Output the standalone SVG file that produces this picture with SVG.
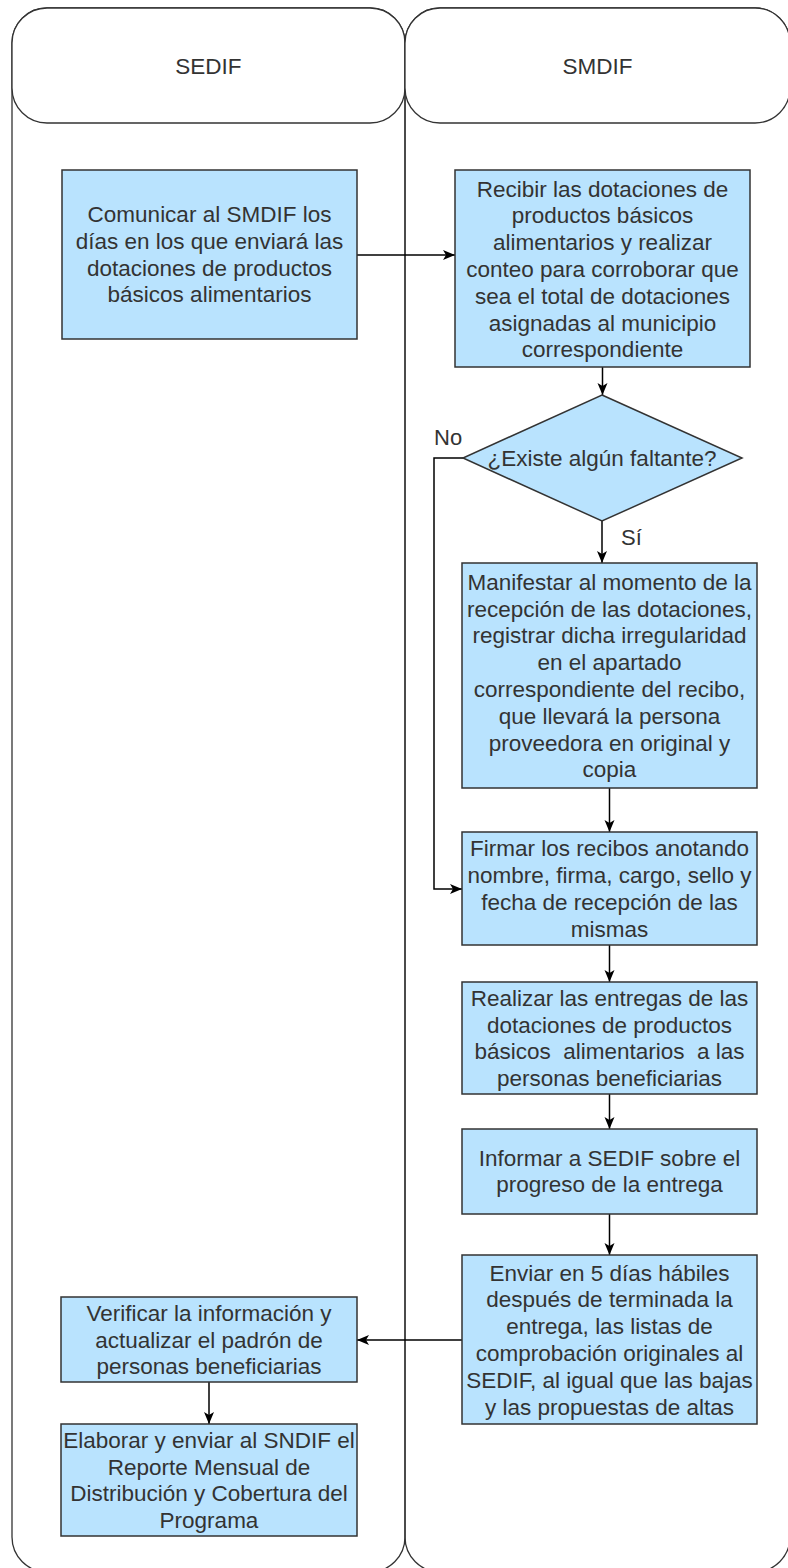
<svg xmlns="http://www.w3.org/2000/svg" width="788" height="1568" viewBox="0 0 788 1568">
<style>
.lane{fill:none;stroke:#333;stroke-width:1.3}
.hdr{fill:#fff;stroke:#333;stroke-width:1.3}
.box{fill:#b9e3fe;stroke:#333;stroke-width:1.5}
.t{font-family:"Liberation Sans",Arial,sans-serif;font-size:22.5px;fill:#333;text-anchor:middle}
.lbl{font-family:"Liberation Sans",Arial,sans-serif;font-size:22px;fill:#333}
.c{fill:none;stroke:#000;stroke-width:1.5}
</style>
<defs>
<marker id="arr" markerUnits="userSpaceOnUse" markerWidth="14" markerHeight="14" viewBox="0 0 14 14" refX="13" refY="7" orient="auto">
<path d="M1,2 L13,7 L1,12 L4,7 z" fill="#000"/>
</marker>
</defs>
<g id="lane-sedif">
<rect class="lane" x="12" y="8" width="393" height="1564" rx="35" ry="35"/>
<rect class="hdr" x="12" y="8" width="393" height="115" rx="35" ry="35"/>
<text class="t" x="208.5" y="73.5">SEDIF</text>
</g>
<g id="lane-smdif">
<rect class="lane" x="405" y="8" width="385" height="1564" rx="35" ry="35"/>
<rect class="hdr" x="405" y="8" width="385" height="115" rx="35" ry="35"/>
<text class="t" x="597.5" y="73.5">SMDIF</text>
</g>
<g id="connectors">
<line class="c" x1="357" y1="255" x2="455" y2="255" marker-end="url(#arr)"/>
<line class="c" x1="602.5" y1="367" x2="602.5" y2="395" marker-end="url(#arr)"/>
<line class="c" x1="602" y1="521" x2="602" y2="563" marker-end="url(#arr)"/>
<polyline class="c" points="463,458 434,458 434,889 462,889" marker-end="url(#arr)"/>
<line class="c" x1="609.5" y1="788" x2="609.5" y2="832" marker-end="url(#arr)"/>
<line class="c" x1="609.5" y1="945" x2="609.5" y2="982" marker-end="url(#arr)"/>
<line class="c" x1="609.5" y1="1094" x2="609.5" y2="1129" marker-end="url(#arr)"/>
<line class="c" x1="609.5" y1="1214" x2="609.5" y2="1255" marker-end="url(#arr)"/>
<line class="c" x1="462" y1="1340" x2="357" y2="1340" marker-end="url(#arr)"/>
<line class="c" x1="209" y1="1382" x2="209" y2="1424" marker-end="url(#arr)"/>
<text class="lbl" x="434" y="445">No</text>
<text class="lbl" x="621" y="545">Sí</text>
</g>
<g id="n-comunicar">
<rect class="box" x="62" y="170" width="295" height="169"/>
<text class="t"><tspan x="209.5" y="222">Comunicar al SMDIF los</tspan><tspan x="209.5" y="248.8">días en los que enviará las</tspan><tspan x="209.5" y="275.6">dotaciones de productos</tspan><tspan x="209.5" y="302.4">básicos alimentarios</tspan></text>
</g>
<g id="n-recibir">
<rect class="box" x="455" y="170" width="295" height="197"/>
<text class="t"><tspan x="602.5" y="196.6">Recibir las dotaciones de</tspan><tspan x="602.5" y="223.4">productos básicos</tspan><tspan x="602.5" y="250.2">alimentarios y realizar</tspan><tspan x="602.5" y="277">conteo para corroborar que</tspan><tspan x="602.5" y="303.8">sea el total de dotaciones</tspan><tspan x="602.5" y="330.6">asignadas al municipio</tspan><tspan x="602.5" y="357.4">correspondiente</tspan></text>
</g>
<g id="n-existe">
<polygon class="box" points="602,395 742,458 602,521 463,458"/>
<text class="t" x="602" y="466">¿Existe algún faltante?</text>
</g>
<g id="n-manifestar">
<rect class="box" x="462" y="563" width="295" height="225"/>
<text class="t"><tspan x="609.5" y="589.7">Manifestar al momento de la</tspan><tspan x="609.5" y="616.5">recepción de las dotaciones,</tspan><tspan x="609.5" y="643.3">registrar dicha irregularidad</tspan><tspan x="609.5" y="670.1">en el apartado</tspan><tspan x="609.5" y="696.9">correspondiente del recibo,</tspan><tspan x="609.5" y="723.7">que llevará la persona</tspan><tspan x="609.5" y="750.5">proveedora en original y</tspan><tspan x="609.5" y="777.3">copia</tspan></text>
</g>
<g id="n-firmar">
<rect class="box" x="462" y="832" width="295" height="113"/>
<text class="t"><tspan x="609.5" y="856.3">Firmar los recibos anotando</tspan><tspan x="609.5" y="883.1">nombre, firma, cargo, sello y</tspan><tspan x="609.5" y="909.9">fecha de recepción de las</tspan><tspan x="609.5" y="936.7">mismas</tspan></text>
</g>
<g id="n-realizar">
<rect class="box" x="462" y="982" width="295" height="112"/>
<text class="t" xml:space="preserve" style="white-space:pre"><tspan x="609.5" y="1005.8">Realizar las entregas de las</tspan><tspan x="609.5" y="1032.6">dotaciones de productos</tspan><tspan x="609.5" y="1059.4">básicos  alimentarios  a las</tspan><tspan x="609.5" y="1086.2">personas beneficiarias</tspan></text>
</g>
<g id="n-informar">
<rect class="box" x="462" y="1129" width="295" height="85"/>
<text class="t"><tspan x="609.5" y="1165.6">Informar a SEDIF sobre el</tspan><tspan x="609.5" y="1192.4">progreso de la entrega</tspan></text>
</g>
<g id="n-enviar">
<rect class="box" x="462" y="1255" width="295" height="169"/>
<text class="t"><tspan x="609.5" y="1280.5">Enviar en 5 días hábiles</tspan><tspan x="609.5" y="1307.3">después de terminada la</tspan><tspan x="609.5" y="1334.1">entrega, las listas de</tspan><tspan x="609.5" y="1360.9">comprobación originales al</tspan><tspan x="609.5" y="1387.7">SEDIF, al igual que las bajas</tspan><tspan x="609.5" y="1414.5">y las propuestas de altas</tspan></text>
</g>
<g id="n-verificar">
<rect class="box" x="61" y="1297" width="296" height="85"/>
<text class="t"><tspan x="209" y="1320.7">Verificar la información y</tspan><tspan x="209" y="1347.5">actualizar el padrón de</tspan><tspan x="209" y="1374.3">personas beneficiarias</tspan></text>
</g>
<g id="n-elaborar">
<rect class="box" x="61" y="1424" width="296" height="112"/>
<text class="t"><tspan x="209" y="1447.8">Elaborar y enviar al SNDIF el</tspan><tspan x="209" y="1474.6">Reporte Mensual de</tspan><tspan x="209" y="1501.4">Distribución y Cobertura del</tspan><tspan x="209" y="1528.2">Programa</tspan></text>
</g>
</svg>
